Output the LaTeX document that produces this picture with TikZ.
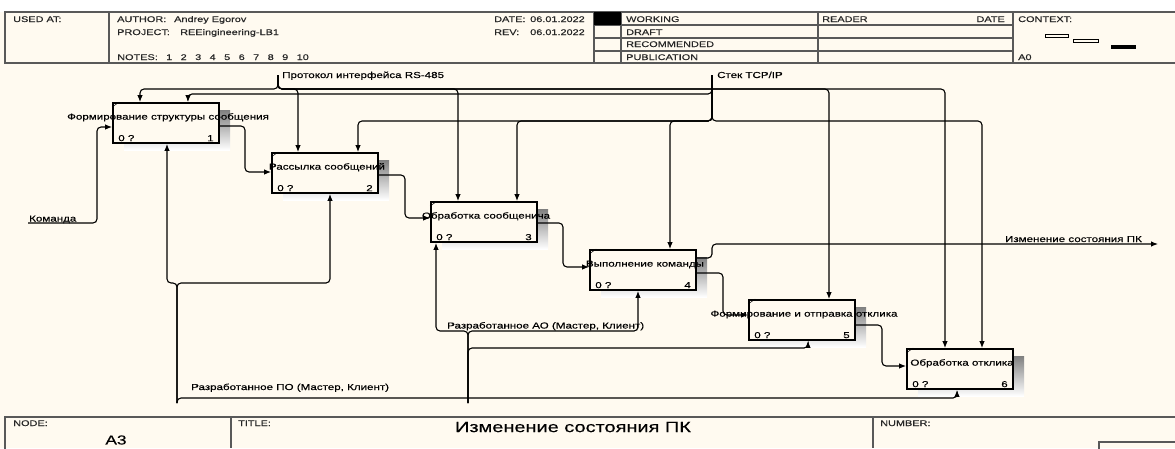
\documentclass[tikz,border=0pt]{standalone}
\usepackage{fontspec}
\setmainfont{Liberation Sans}[FakeStretch=1.33, FakeBold=0.35]
\usepackage{xcolor}
\usepackage{tikz}
\usetikzlibrary{calc, arrows.meta, positioning}

\definecolor{paper}{RGB}{255,250,240}
\definecolor{shade}{RGB}{178,178,178}

\tikzset{
    frame/.style={draw=black!65, line width=1.2pt},
    act/.style={draw, line width=1.8pt, fill=paper, minimum width=106pt, minimum height=40pt, inner sep=0pt},
    flow/.style={->, line width=1.1pt, rounded corners=4pt},
    lbl/.style={font=\fontsize{8.7}{10}\selectfont, inner sep=0pt},
    hdr/.style={font=\fontsize{8.2}{9}\selectfont, inner sep=0pt, text=black!85},
}

\begin{document}
\begin{tikzpicture}[x=1pt, y=-1pt, >={Latex[length=7pt,width=5.5pt]}]
    \useasboundingbox (0,0) rectangle (1175,448);
    % 1. Paper, header and footer
    \fill[white] (0,0) rectangle (1175,448);
    \fill[paper] (0,12) rectangle (1175,448);
    \draw[frame] (5,12) rectangle (1180,63);
    \foreach \x in {109,594,621,818,1013} {
        \draw[frame] (\x,12) -- (\x,63);
    }
    \foreach \y in {25,38,51} {
        \draw[frame] (594,\y) -- (1013,\y);
    }
    \fill (594,12) rectangle (621,25);
    \node[hdr, anchor=base west] at (13,22) {USED AT:};
    \node[hdr, anchor=base west] at (117,22) {AUTHOR:};
    \node[hdr, anchor=base west] at (174,22) {Andrey Egorov};
    \node[hdr, anchor=base west] at (117,35) {PROJECT:};
    \node[hdr, anchor=base west] at (180,35) {REEingineering-LB1};
    \node[hdr, anchor=base west] at (117,60) {NOTES:};
    \foreach \i in {1,...,10} {
        \node[hdr, anchor=base west] at ({166+14.5*(\i-1)},60) {\i};
    }
    \node[hdr, anchor=base west] at (494,22) {DATE:};
    \node[hdr, anchor=base west] at (530,22) {06.01.2022};
    \node[hdr, anchor=base west] at (494,35) {REV:};
    \node[hdr, anchor=base west] at (530,35) {06.01.2022};
    \node[hdr, anchor=base west] at (626,22) {WORKING};
    \node[hdr, anchor=base west] at (626,35) {DRAFT};
    \node[hdr, anchor=base west] at (626,47) {RECOMMENDED};
    \node[hdr, anchor=base west] at (626,60) {PUBLICATION};
    \node[hdr, anchor=base west] at (822,22) {READER};
    \node[hdr, anchor=base east] at (1005,22) {DATE};
    \node[hdr, anchor=base west] at (1018,22) {CONTEXT:};
    \node[hdr, anchor=base west] at (1018,60) {A0};
    \draw[line width=0.6pt] (1045,34.5) rectangle (1068,37.5);
    \draw[line width=0.6pt] (1073,39) rectangle (1098,42);
    \fill (1111,45) rectangle (1136,48.5);

    \draw[frame] (5,417) rectangle (1180,455);
    \draw[frame] (231,417) -- (231,448);
    \draw[frame] (873,417) -- (873,448);
    \draw[frame] (1099,442) rectangle (1180,455);
    \node[hdr, anchor=base west] at (13,426) {NODE:};
    \node[hdr, anchor=base west] at (238,426) {TITLE:};
    \node[hdr, anchor=base west] at (880,426) {NUMBER:};
    \node[inner sep=0pt, font=\fontsize{13}{15}\selectfont] at (116,440) {A3};
    \node[inner sep=0pt, font=\fontsize{15}{17}\selectfont] at (573,427) {Изменение состояния ПК};

    % 2. Activity boxes
    \foreach \n/\x/\y/\txt in {1/166/123/Формирование структуры сообщения,
                               2/325/173/Рассылка сообщений,
                               3/484/222/Обработка сообщенича,
                               4/643/270/Выполнение команды,
                               5/802/320/Формирование и отправка отклика,
                               6/960/369/Обработка отклика} {
        \fill[shade] (\x-42,\y-13) rectangle (\x+64,\y+27);
        \node[act] (b\n) at (\x,\y) {};
        \draw[line width=0.5pt] ([yshift=-5pt]b\n.north west) -- ([xshift=7pt]b\n.north west);
        \node[lbl, anchor=base] at ([xshift=2pt,yshift=-17.5pt]b\n.north) {\txt};
        \node[lbl, anchor=south west] at ([xshift=6pt,yshift=2.5pt]b\n.south west) {0 ?};
        \node[lbl, anchor=south east] at ([xshift=-6pt,yshift=2.5pt]b\n.south east) {\n};
    }

    % 3. Input and outputs
    \coordinate (cmd) at (28,223);
    \node[lbl, anchor=base west] at (29,221.5) {Команда};
    \draw[flow] (cmd) -- (97,223) -- (97,127) -- (b1.west |- 0,127);
    \draw[flow] (b1.east |- 0,126) -- (245,126) -- (245,172) -- (b2.west |- 0,172);
    \draw[flow] (b2.east |- 0,175) -- (405,175) -- (405,218) -- (b3.west |- 0,218);
    \draw[flow] (b3.east |- 0,223) -- (563,223) -- (563,267) -- (b4.west |- 0,267);
    \draw[flow] (b4.east |- 0,273) -- (723,273) -- (723,315) -- (b5.west |- 0,315);
    \draw[flow] (b5.east |- 0,325) -- (882,325) -- (882,366) -- (b6.west |- 0,366);
    \coordinate (outpk) at (1158,244);
    \node[lbl, anchor=base east] at (1142,242) {Изменение состояния ПК};
    \draw[flow] (b4.east |- 0,258) -- (712,258) -- (712,244) -- (outpk);

    % 4. Controls
    \coordinate (rs) at (278,75);
    \node[lbl, anchor=base west] at (282,78) {Протокол интерфейса RS-485};
    \foreach \tgt/\x in {b1/140, b2/298, b3/458, b5/829, b6/945} {
        \draw[flow] (rs) -- (278,89) -| (\tgt.north -| \x,0);
    }
    \coordinate (tcp) at (712,75);
    \node[lbl, anchor=base west] at (717,78) {Стек TCP/IP};
    \draw[flow] (tcp) -- (712,94) -| (b1.north -| 188,0);
    \foreach \tgt/\x in {b2/358, b3/517, b4/670, b6/982} {
        \draw[flow] (tcp) -- (712,121) -| (\tgt.north -| \x,0);
    }

    % 5. Mechanisms
    \coordinate (po) at (177,403);
    \node[lbl, anchor=base west] at (191,390) {Разработанное ПО (Мастер, Клиент)};
    \draw[flow] (po) -- (177,283) -| (b1.south -| 167,0);
    \draw[flow] (po) -- (177,283) -| (b2.south -| 330,0);
    \draw[flow] (po) -- (177,398) -| (b6.south -| 957,0);
    \coordinate (ao) at (468,403);
    \node[lbl, anchor=base west] at (447,328.5) {Разработанное АО (Мастер, Клиент)};
    \draw[flow] (ao) -- (468,331) -| (b3.south -| 436,0);
    \draw[flow] (ao) -- (468,331) -| (b4.south -| 638,0);
    \draw[flow] (ao) -- (468,348) -| (b5.south -| 808,0);
\end{tikzpicture}
\end{document}
